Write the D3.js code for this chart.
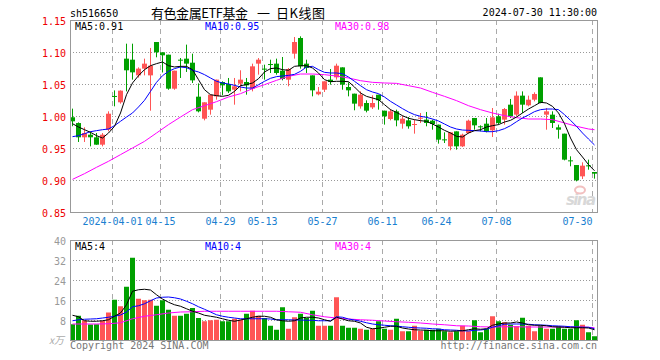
<!DOCTYPE html>
<html>
<head>
<meta charset="utf-8">
<script src="https://cdn.jsdelivr.net/npm/d3@7"></script>
<style>
  body { margin: 0; background: #fff; }
  svg { display: block; }
</style>
</head>
<body>
<div id="viz"></div>
<script>
"use strict";

// header texts
const code = "sh516650";
const titleParts = ["有色金属ETF基金", "一", "日K线图"];
const stamp = "2024-07-30 11:30:00";

// daily candles, 2024-03-21 .. 2024-07-30
const open = [0.998,0.989,0.9667,0.9708,0.9667,0.9552,0.9786,1.0313,1.0214,1.0896,
  1.088,1.0635,1.074,1.0635,1.1156,1.0995,1.0958,1.0427,1.088,1.0896,
  1.0833,1.0302,0.9958,1.0099,1.0307,1.0531,1.05,1.0411,1.0505,1.0531,
  1.0427,1.0818,1.074,1.0812,1.0818,1.0708,1.0568,1.0974,1.1219,1.0818,
  1.0635,1.0339,1.0411,1.0568,1.0604,1.076,1.0453,1.0349,1.0151,1.0203,
  1.0135,1.0333,1.0083,0.9953,1.0073,0.988,0.9932,0.987,0.9958,0.9943,
  0.9927,0.9865,0.9635,0.9526,0.976,0.9526,0.9734,0.9969,0.9839,0.988,
  0.9776,0.9995,0.9943,1.0177,1.0021,1.0318,1.0167,1.0255,1.0604,1.0021,
  1.0021,0.9823,0.9724,0.9307,0.9234,0.9057,0.9229,0.9125];
const high = [1.0115,0.990,0.9823,0.9755,0.9734,0.9734,1.0073,1.040,1.040,1.113,
  1.113,1.076,1.0896,1.1063,1.1156,1.0995,1.0958,1.0708,1.0906,1.1115,
  1.0974,1.051,1.0214,1.0333,1.0568,1.0542,1.0594,1.0594,1.0714,1.0594,
  1.0818,1.0906,1.0802,1.088,1.0896,1.0922,1.075,1.1234,1.1245,1.088,
  1.0635,1.0453,1.0542,1.0734,1.0818,1.076,1.0526,1.0349,1.0385,1.0245,
  1.0323,1.0333,1.0083,1.011,1.0099,1.0005,0.9984,0.9943,1.0047,1.0063,
  0.9943,0.9865,0.9745,0.9745,0.976,0.9724,0.9943,0.9969,0.9854,0.9969,
  1.0125,1.0036,1.0125,1.0266,1.0385,1.0385,1.0318,1.037,1.0604,1.0125,
  1.0073,0.9865,0.9724,0.937,0.9234,0.9276,0.9318,0.9125];
const low = [0.984,0.9594,0.9594,0.9526,0.955,0.9526,0.976,1.0151,1.0193,1.0385,
  1.0568,1.060,1.0635,1.0083,1.0917,1.068,1.041,1.041,1.0594,1.0688,
  1.0516,1.0057,0.9932,1.0021,1.0255,1.0323,1.036,1.0177,1.0385,1.0333,
  1.0385,1.0646,1.0568,1.0672,1.0646,1.0557,1.0464,1.0896,1.074,1.0672,
  1.0307,1.0323,1.0375,1.049,1.0568,1.0411,1.0307,1.0089,1.0115,1.0057,
  1.0109,1.0099,0.9865,0.9932,0.9839,0.9802,0.9802,0.9724,0.989,0.9839,
  0.9786,0.9568,0.9578,0.9464,0.9474,0.9516,0.9724,0.9786,0.976,0.9745,
  0.9672,0.9865,0.9865,0.9969,0.9995,1.0047,1.0151,1.0229,1.0198,0.9786,
  0.9813,0.9646,0.9307,0.9214,0.8979,0.9016,0.9161,0.9021];
const close = [0.9917,0.9667,0.9734,0.9667,0.9552,0.9708,1.0036,1.0307,1.0396,1.0714,
  1.0682,1.074,1.0818,1.0786,1.0995,1.0948,1.0427,1.0708,1.0875,1.0818,
  1.0557,1.0073,1.0214,1.0333,1.0568,1.0479,1.0385,1.0464,1.0568,1.0479,
  1.0776,1.088,1.0735,1.0807,1.0672,1.0578,1.0734,1.1156,1.0776,1.075,
  1.0401,1.038,1.0542,1.0531,1.0786,1.049,1.0401,1.0193,1.0333,1.0083,
  1.0203,1.0245,0.9995,1.0073,0.9932,0.9958,0.9839,0.9875,0.9974,0.9891,
  0.9875,0.963,0.963,0.9745,0.9526,0.9708,0.9927,0.9854,0.9833,0.976,
  0.9979,0.9891,1.0109,0.9995,1.0318,1.0177,1.0255,1.0344,1.0203,1.0073,
  0.9891,0.9786,0.9318,0.9302,0.8995,0.9224,0.9224,0.9099];

// volume, 万 lots
const volume = [6.3,9.7,7.8,6.2,6.3,7.7,11.0,16.1,13.5,21.3,
  32.9,16.5,15.9,16.1,13.7,15.9,12.1,9.7,9.7,10.5,
  12.8,8.8,7.5,7.9,8.1,7.5,7.5,8.5,8.1,10.5,
  11.7,9.7,8.8,5.7,4.1,13.1,4.5,9.1,10.5,8.8,
  11.7,5.7,5.7,5.7,17.1,5.7,4.9,4.9,4.5,4.1,
  4.5,7.5,4.5,4.1,8.5,3.5,3.5,5.7,3.7,4.1,
  4.1,4.5,3.5,3.1,3.5,5.7,3.5,7.9,3.1,4.5,
  9.5,7.5,7.1,6.1,5.5,8.9,5.7,3.5,5.7,4.5,
  4.5,5.5,4.5,4.5,7.9,6.1,3.1,1.5];

// moving averages as drawn
const ma5 = [0.988,0.9828,0.9786,0.9745,0.9693,0.9656,0.9734,0.9839,1.0047,1.0333,
  1.0516,1.063,1.0724,1.0786,1.0818,1.0844,1.0786,1.0766,1.0776,1.0776,
  1.0724,1.0568,1.0411,1.0333,1.0318,1.0307,1.0323,1.0385,1.0474,1.049,
  1.0516,1.0583,1.0688,1.074,1.075,1.0724,1.0714,1.0776,1.0786,1.0786,
  1.075,1.0672,1.0568,1.0536,1.0542,1.0542,1.0536,1.0453,1.0359,1.0307,
  1.0281,1.0255,1.0177,1.0099,1.0057,1.0005,0.9964,0.9943,0.9927,0.9917,
  0.9875,0.9828,0.9776,0.9734,0.9682,0.9672,0.9734,0.9771,0.9786,0.9828,
  0.9849,0.9865,0.9906,0.9932,0.9984,1.0047,1.0109,1.0161,1.0214,1.0203,
  1.0151,1.0047,0.988,0.9656,0.9474,0.9359,0.924,0.9145];
const ma10 = [0.9677,0.9693,0.9724,0.9755,0.9771,0.9786,0.9797,0.9849,0.9917,0.9984,
  1.0047,1.0141,1.0245,1.0385,1.0526,1.063,1.0698,1.074,1.0766,1.0755,
  1.0714,1.0688,1.0646,1.0594,1.0542,1.0516,1.05,1.0479,1.0453,1.0437,
  1.0437,1.0489,1.0542,1.0589,1.0615,1.0625,1.0635,1.0651,1.0698,1.0766,
  1.0776,1.0724,1.0682,1.0672,1.0672,1.0661,1.0609,1.0542,1.0474,1.0411,
  1.0375,1.0349,1.0297,1.0229,1.0172,1.0115,1.0063,1.0021,0.9995,0.9979,
  0.9953,0.9922,0.9875,0.9828,0.9797,0.9781,0.9776,0.9771,0.9766,0.9755,
  0.9755,0.9771,0.9802,0.9849,0.9911,0.9969,1.0016,1.0068,1.0099,1.0109,
  1.0109,1.0099,1.0021,0.9932,0.9839,0.9734,0.964,0.9547];
// ma30 lines read every other day
const ma30Idx = d3.range(0, 88, 2).concat([87]);
const ma30 = [0.901,0.9099,0.9198,0.9292,0.9396,0.95,0.9604,0.9734,0.9865,0.9984,
  1.0099,1.0161,1.0224,1.0297,1.0349,1.0427,1.049,1.0557,1.062,1.0656,
  1.0656,1.0646,1.0625,1.0594,1.0552,1.0526,1.0516,1.051,1.0474,1.0437,
  1.037,1.0307,1.024,1.0161,1.0099,1.0047,1.0005,0.9974,0.9953,0.9953,
  0.9943,0.9891,0.9839,0.9797,0.9786];

const vma5 = [9.9,9.3,7.7,7.5,7.5,7.7,8.1,9.5,10.8,14.1,
  19.5,20.1,20.3,20.0,18.1,16.4,15.1,14.1,13.5,12.5,
  11.5,10.8,9.9,9.5,9.1,8.5,7.9,7.5,8.0,8.5,
  9.1,9.5,9.5,9.1,8.1,7.7,7.5,7.7,8.8,9.1,
  9.1,8.8,8.1,7.5,9.1,8.4,7.7,7.5,6.8,5.1,
  4.5,4.7,5.1,5.5,5.5,4.8,4.4,4.1,4.0,3.9,
  3.7,3.7,3.7,3.5,3.6,3.7,4.1,4.5,4.3,4.5,
  5.9,6.4,6.8,6.8,7.2,6.8,6.1,5.9,5.9,5.7,
  5.3,5.2,5.1,4.9,4.9,4.9,4.8,4.1];
const vma10 = [7.7,8.1,8.3,8.4,8.5,8.8,9.1,9.5,10.0,11.2,
  13.3,13.7,14.5,15.7,16.8,17.1,17.2,16.9,16.4,15.5,
  14.5,13.3,12.3,11.2,10.1,9.5,9.1,8.8,8.5,8.5,
  8.5,8.5,8.5,8.4,8.1,8.1,8.1,8.0,8.0,7.9,
  7.9,7.7,7.7,7.7,9.3,9.1,8.4,8.0,7.5,6.9,
  6.4,6.1,5.9,5.7,5.6,5.3,5.1,4.9,4.8,4.7,
  4.5,4.4,4.1,4.0,3.9,3.7,3.6,3.9,4.0,4.3,
  5.1,5.7,6.3,6.4,6.4,6.4,6.3,6.1,6.0,5.9,
  5.7,5.6,5.5,5.3,5.2,5.1,5.1,4.5];
const vma30 = [6.4,6.4,6.4,6.5,6.9,8.5,9.5,10.1,10.8,11.2,
  11.3,11.5,11.5,11.5,11.5,11.5,11.5,11.5,11.3,11.1,
  10.1,9.3,8.8,8.4,8.1,7.9,7.6,7.3,7.1,6.8,
  6.4,6.1,5.7,5.6,5.3,5.2,5.3,5.3,5.2,5.2,
  5.2,5.2,5.2,5.1,4.9];

// axis labels
const priceTicks = [0.85, 0.90, 0.95, 1.00, 1.05, 1.10, 1.15];
const volTicks = [8, 16, 24, 32, 40];
const dateIdx = [7, 15, 25, 32, 42, 52, 61, 71, 87];
const dateLabels = ["2024-04-01", "04-15", "04-29", "05-13", "05-27", "06-11", "06-24", "07-08", "07-30"];
const priceLegend = ["MA5:0.91", "MA10:0.95", "MA30:0.98"];
const volLegend = ["MA5:4", "MA10:4", "MA30:4"];

function initChart() {
    let left = 70, right = 598;
    let pTop = 20, pBottom = 212;
    let vTop = 240, vBottom = 340;
    let mono = "'DejaVu Sans Mono', monospace";
    let cjk = "'Noto Sans CJK SC', sans-serif";
    let upColor = "#ff5555", downColor = "#00a000";
    let maColors = ["#000000", "#0000ff", "#ff00ff"];

    let svg = d3.select('#viz')
                .append('svg')
                .attr('width', 660)
                .attr('height', 360);

    let idx = d3.range(open.length);

    let xScale = d3.scaleBand()
                   .domain(idx)
                   .range([left, right - 1])
                   .paddingInner(1 / 6)
                   .paddingOuter(0);
    let cx = i => xScale(i) + xScale.bandwidth() / 2;

    let yPrice = d3.scaleLinear().domain([0.85, 1.15]).range([pBottom, pTop]);
    let yVol = d3.scaleLinear().domain([0, 40]).range([vBottom, vTop]);

    svg.append('defs').selectAll('clipPath')
       .data([['clipP', pTop, pBottom], ['clipV', vTop, vBottom]])
       .enter()
       .append('clipPath')
       .attr('id', d => d[0])
       .append('rect')
       .attr('x', left).attr('y', d => d[1])
       .attr('width', right - left).attr('height', d => d[2] - d[1]);

    // header
    svg.append('text').text(code)
       .attr('x', 70).attr('y', 16.5)
       .attr('font-family', mono).attr('font-size', '10px');
    let title = svg.append('text')
                   .attr('y', 17.5)
                   .attr('font-family', cjk).attr('font-size', '13px');
    title.append('tspan').text(titleParts[0]).attr('x', 151).attr('textLength', 97);
    title.append('tspan').text(titleParts[1]).attr('x', 257);
    title.append('tspan').text(titleParts[2]).attr('x', 276).attr('textLength', 49);
    svg.append('text').text(stamp)
       .attr('x', 597).attr('y', 16)
       .attr('text-anchor', 'end')
       .attr('font-family', mono).attr('font-size', '10px');

    // grids for both panels
    [[pTop, pBottom], [vTop, vBottom]].forEach(([t, b]) => {
        svg.append('g').selectAll('line')
           .data(dateIdx)
           .enter()
           .append('line')
           .attr('x1', i => xScale(i) + 0.5).attr('x2', i => xScale(i) + 0.5)
           .attr('y1', t).attr('y2', b)
           .attr('stroke', '#aaa')
           .attr('stroke-dasharray', '5,4');
    });

    svg.append('g').selectAll('line')
       .data(priceTicks.slice(1, -1))
       .enter()
       .append('line')
       .attr('x1', left).attr('x2', right)
       .attr('y1', d => Math.round(yPrice(d)) + 0.5)
       .attr('y2', d => Math.round(yPrice(d)) + 0.5)
       .attr('stroke', '#999')
       .attr('stroke-dasharray', '1,2');

    svg.append('g').selectAll('line')
       .data(volTicks.slice(0, -1))
       .enter()
       .append('line')
       .attr('x1', left).attr('x2', right)
       .attr('y1', d => Math.round(yVol(d)) + 0.5)
       .attr('y2', d => Math.round(yVol(d)) + 0.5)
       .attr('stroke', '#999')
       .attr('stroke-dasharray', '1,2');

    // price labels
    svg.append('g').selectAll('text')
       .data(priceTicks)
       .enter()
       .append('text')
       .text(d => d.toFixed(2))
       .attr('x', 66).attr('y', d => yPrice(d) + 1)
       .attr('dy', '0.35em')
       .attr('text-anchor', 'end')
       .attr('font-family', mono).attr('font-size', '10px')
       .attr('fill', '#ee0000');

    // volume labels
    svg.append('g').selectAll('text')
       .data(volTicks)
       .enter()
       .append('text')
       .text(d => d)
       .attr('x', 66).attr('y', d => yVol(d) + 1)
       .attr('dy', '0.35em')
       .attr('text-anchor', 'end')
       .attr('font-family', mono).attr('font-size', '10px')
       .attr('fill', '#999');
    svg.append('text').text('x万')
       .attr('x', 64).attr('y', 344)
       .attr('text-anchor', 'end')
       .attr('font-family', cjk).attr('font-size', '10px')
       .attr('font-style', 'italic')
       .attr('fill', '#aaa');

    // date labels, the last one kept inside the frame
    svg.append('g').selectAll('text')
       .data(dateIdx)
       .enter()
       .append('text')
       .text((d, k) => dateLabels[k])
       .attr('x', d => xScale(d) + 0.5)
       .attr('y', 225)
       .attr('text-anchor', (d, k) => k === dateIdx.length - 1 ? 'end' : 'middle')
       .attr('font-family', mono).attr('font-size', '10px')
       .attr('fill', '#1a80d0');

    // sina watermark
    svg.append('text').text('sina')
       .attr('x', 566).attr('y', 205)
       .attr('textLength', 30)
       .attr('font-family', "'DejaVu Sans', sans-serif").attr('font-size', '15px')
       .attr('font-weight', 'bold').attr('font-style', 'italic')
       .attr('fill', '#d8d8d8');
    svg.append('ellipse')
       .attr('cx', 580).attr('cy', 190).attr('rx', 5).attr('ry', 3.5)
       .attr('fill', 'none').attr('stroke', '#f2c0c0').attr('stroke-width', 2);

    // candles
    let candles = svg.append('g');
    let col = i => close[i] >= open[i] ? upColor : downColor;

    candles.selectAll('line')
           .data(idx)
           .enter()
           .append('line')
           .attr('x1', i => cx(i)).attr('x2', i => cx(i))
           .attr('y1', i => yPrice(high[i])).attr('y2', i => yPrice(low[i]))
           .attr('stroke', col);

    candles.selectAll('rect')
           .data(idx)
           .enter()
           .append('rect')
           .attr('x', i => xScale(i))
           .attr('width', xScale.bandwidth())
           .attr('y', i => yPrice(Math.max(open[i], close[i])))
           .attr('height', i => Math.max(1, yPrice(Math.min(open[i], close[i])) - yPrice(Math.max(open[i], close[i]))))
           .attr('fill', col);

    // volume bars
    svg.append('g').selectAll('rect')
       .data(idx)
       .enter()
       .append('rect')
       .attr('x', i => xScale(i))
       .attr('width', xScale.bandwidth())
       .attr('y', i => yVol(volume[i]))
       .attr('height', i => vBottom - yVol(volume[i]))
       .attr('fill', col);

    // moving average lines
    let drawLine = (xs, ys, yScale, color, clip) => {
        let line = d3.line()
                     .x((d, k) => cx(xs[k]))
                     .y(d => yScale(d));
        svg.append('path')
           .datum(ys)
           .attr('d', line)
           .attr('fill', 'none')
           .attr('stroke', color)
           .attr('stroke-width', 1)
           .attr('clip-path', 'url(#' + clip + ')');
    };
    drawLine(ma30Idx, ma30, yPrice, maColors[2], 'clipP');
    drawLine(idx, ma10, yPrice, maColors[1], 'clipP');
    drawLine(idx, ma5, yPrice, maColors[0], 'clipP');
    drawLine(ma30Idx, vma30, yVol, maColors[2], 'clipV');
    drawLine(idx, vma10, yVol, maColors[1], 'clipV');
    drawLine(idx, vma5, yVol, maColors[0], 'clipV');

    // frames
    [[pTop, pBottom], [vTop, vBottom]].forEach(([t, b]) => {
        svg.append('rect')
           .attr('x', left + 0.5).attr('y', t + 0.5)
           .attr('width', right - left - 1).attr('height', b - t)
           .attr('fill', 'none')
           .attr('stroke', '#999');
    });

    // legends
    svg.append('g').selectAll('text')
       .data(priceLegend)
       .enter()
       .append('text')
       .text(d => d)
       .attr('x', (d, k) => 75 + k * 130).attr('y', 29.5)
       .attr('font-family', mono).attr('font-size', '10px')
       .attr('fill', (d, k) => maColors[k]);
    svg.append('g').selectAll('text')
       .data(volLegend)
       .enter()
       .append('text')
       .text(d => d)
       .attr('x', (d, k) => 75 + k * 130).attr('y', 250)
       .attr('font-family', mono).attr('font-size', '10px')
       .attr('fill', (d, k) => maColors[k]);

    // footer
    svg.append('text').text('Copyright 2024 SINA.COM')
       .attr('x', 70).attr('y', 349)
       .attr('font-family', mono).attr('font-size', '10px')
       .attr('fill', '#777');
    svg.append('text').text('http://finance.sina.com.cn')
       .attr('x', 597).attr('y', 349)
       .attr('text-anchor', 'end')
       .attr('font-family', mono).attr('font-size', '10px')
       .attr('fill', '#777');
}

initChart();
</script>
</body>
</html>
